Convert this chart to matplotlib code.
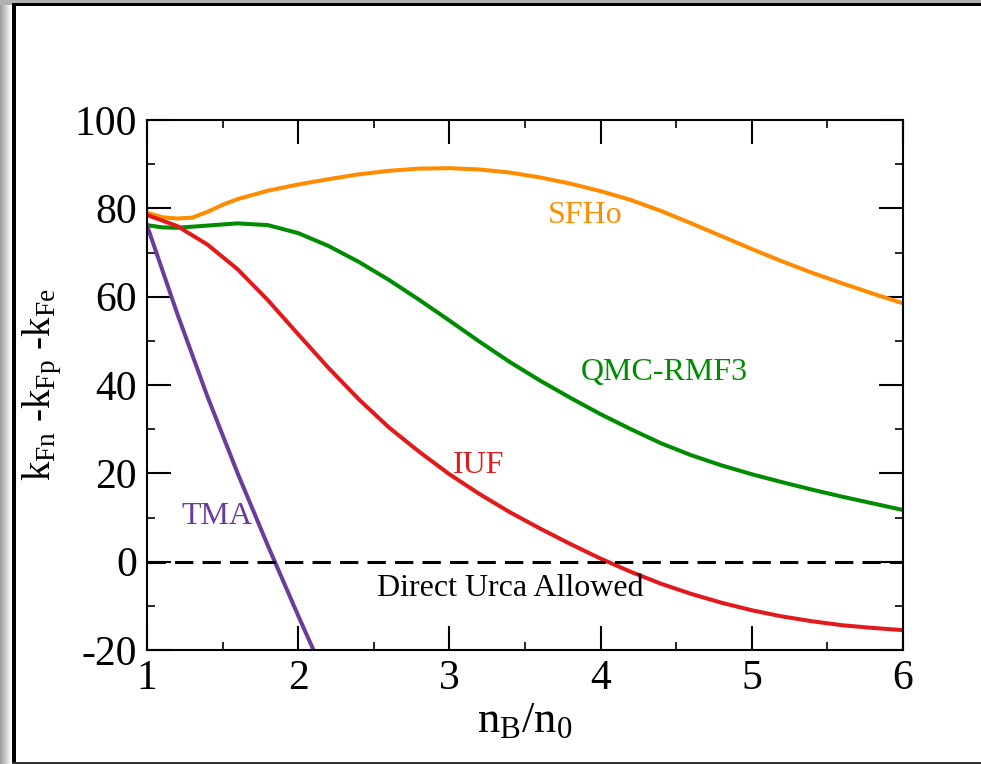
import matplotlib
matplotlib.use("Agg")
import matplotlib.pyplot as plt
from matplotlib.patches import Rectangle
from matplotlib.ticker import MultipleLocator

plt.rcParams['font.family'] = ['Liberation Serif', 'DejaVu Serif']
plt.rcParams['mathtext.fontset'] = 'custom'
plt.rcParams['mathtext.rm'] = 'Liberation Serif'
plt.rcParams['mathtext.it'] = 'Liberation Serif:italic'
plt.rcParams['axes.unicode_minus'] = False

# curve values (n_B/n_0 , k_Fn - k_Fp - k_Fe)
sfho_x = [1.0, 1.1, 1.2, 1.3, 1.4, 1.5, 1.6, 1.8, 2.0, 2.2, 2.4, 2.6, 2.8, 3.0, 3.2, 3.4, 3.6, 3.8,
          4.0, 4.2, 4.4, 4.6, 4.8, 5.0, 5.2, 5.4, 5.6, 5.8, 6.0]
sfho_y = [79.0, 78.0, 77.7, 77.9, 79.2, 80.8, 82.1, 84.0, 85.4, 86.6, 87.7, 88.5, 89.0, 89.1, 88.8, 88.1,
          87.0, 85.6, 83.9, 81.9, 79.4, 76.6, 73.7, 70.8, 68.0, 65.4, 63.0, 60.7, 58.5]

qmc_x = [1.0, 1.1, 1.2, 1.4, 1.6, 1.8, 2.0, 2.2, 2.4, 2.6, 2.8, 3.0, 3.2, 3.4, 3.6, 3.8,
         4.0, 4.2, 4.4, 4.6, 4.8, 5.0, 5.2, 5.4, 5.6, 5.8, 6.0]
qmc_y = [76.2, 75.7, 75.6, 76.1, 76.6, 76.2, 74.4, 71.5, 67.9, 63.8, 59.3, 54.6, 49.8, 45.2, 41.0, 37.1,
         33.4, 30.0, 26.8, 24.1, 21.8, 19.8, 18.0, 16.3, 14.7, 13.2, 11.7]

iuf_x = [1.0, 1.2, 1.4, 1.6, 1.8, 2.0, 2.2, 2.4, 2.6, 2.8, 3.0, 3.2, 3.4, 3.6, 3.8,
         4.0, 4.2, 4.4, 4.6, 4.8, 5.0, 5.2, 5.4, 5.6, 5.8, 6.0]
iuf_y = [78.5, 76.0, 71.8, 66.2, 59.2, 51.5, 43.9, 36.8, 30.4, 24.9, 19.8, 15.3, 11.2, 7.5, 4.0,
         0.7, -2.3, -5.0, -7.3, -9.3, -11.0, -12.4, -13.5, -14.4, -15.0, -15.5]

tma_x = [1.0, 1.2, 1.4, 1.6, 1.8, 2.0, 2.1, 2.13]
tma_y = [76.2, 56.2, 37.4, 20.0, 3.6, -12.2, -19.9, -22.2]

curves = [
    (sfho_x, sfho_y, '#ff8c00', 'SFHo', 3.90, 78.3),
    (qmc_x, qmc_y, '#008c00', 'QMC-RMF3', 4.42, 42.8),
    (iuf_x, iuf_y, '#e31a1c', 'IUF', 3.19, 21.7),
    (tma_x, tma_y, '#6a3d9a', 'TMA', 1.46, 10.3),
]

fig = plt.figure(figsize=(9.81, 7.64), dpi=100)
ax = fig.add_axes([0.1498, 0.1492, 0.9205 - 0.1498, 0.8429 - 0.1492])

# frame with a soft shadow on the left, like the exported screenshot
for i in range(12):
    g = 0.62 + 0.38 * i / 11
    fig.add_artist(Rectangle((i / 981, 0), 1 / 981, 1, transform=fig.transFigure,
                             facecolor=(g, g, g), edgecolor='none'))
fig.add_artist(Rectangle((0, 0.993), 1, 0.007, transform=fig.transFigure,
                         facecolor='#b0b0b0', edgecolor='none'))
fig.add_artist(Rectangle((12 / 981, 0.9915), 1, 0.004, transform=fig.transFigure,
                         facecolor='black', edgecolor='none'))
fig.add_artist(Rectangle((12 / 981, 0), 3.5 / 981, 0.9955, transform=fig.transFigure,
                         facecolor='black', edgecolor='none'))
fig.add_artist(Rectangle((12 / 981, 0), 1, 2.5 / 764, transform=fig.transFigure,
                         facecolor='#333333', edgecolor='none'))

for xs, ys, color, name, tx, ty in curves:
    ax.plot(xs, ys, color=color, lw=2.9, solid_joinstyle='round')
    ax.text(tx, ty, name, color=color, fontsize=23, ha='center', va='center')

ax.axhline(0, color='black', lw=2.2, dashes=(6, 3))
ax.text(3.40, -6.0, 'Direct Urca Allowed', fontsize=23, ha='center', va='center')

ax.set_xlim(1, 6)
ax.set_ylim(-20, 100)
ax.xaxis.set_major_locator(MultipleLocator(1))
ax.xaxis.set_minor_locator(MultipleLocator(0.5))
ax.yaxis.set_major_locator(MultipleLocator(20))
ax.yaxis.set_minor_locator(MultipleLocator(10))
ax.tick_params(which='both', direction='in', top=True, right=True, labelsize=30)
ax.tick_params(which='major', length=17, width=1.5, pad=7)
ax.tick_params(which='minor', length=6, width=1.2)
for sp in ax.spines.values():
    sp.set_linewidth(1.5)

ax.set_xlabel(r'$\mathregular{n_B/n_0}$', fontsize=32, labelpad=2)
ax.set_ylabel(r'$\mathregular{k_{Fn}}$ -$\mathregular{k_{Fp}}$ -$\mathregular{k_{Fe}}$', fontsize=28, labelpad=8)

fig.savefig('out.png', dpi=100)
